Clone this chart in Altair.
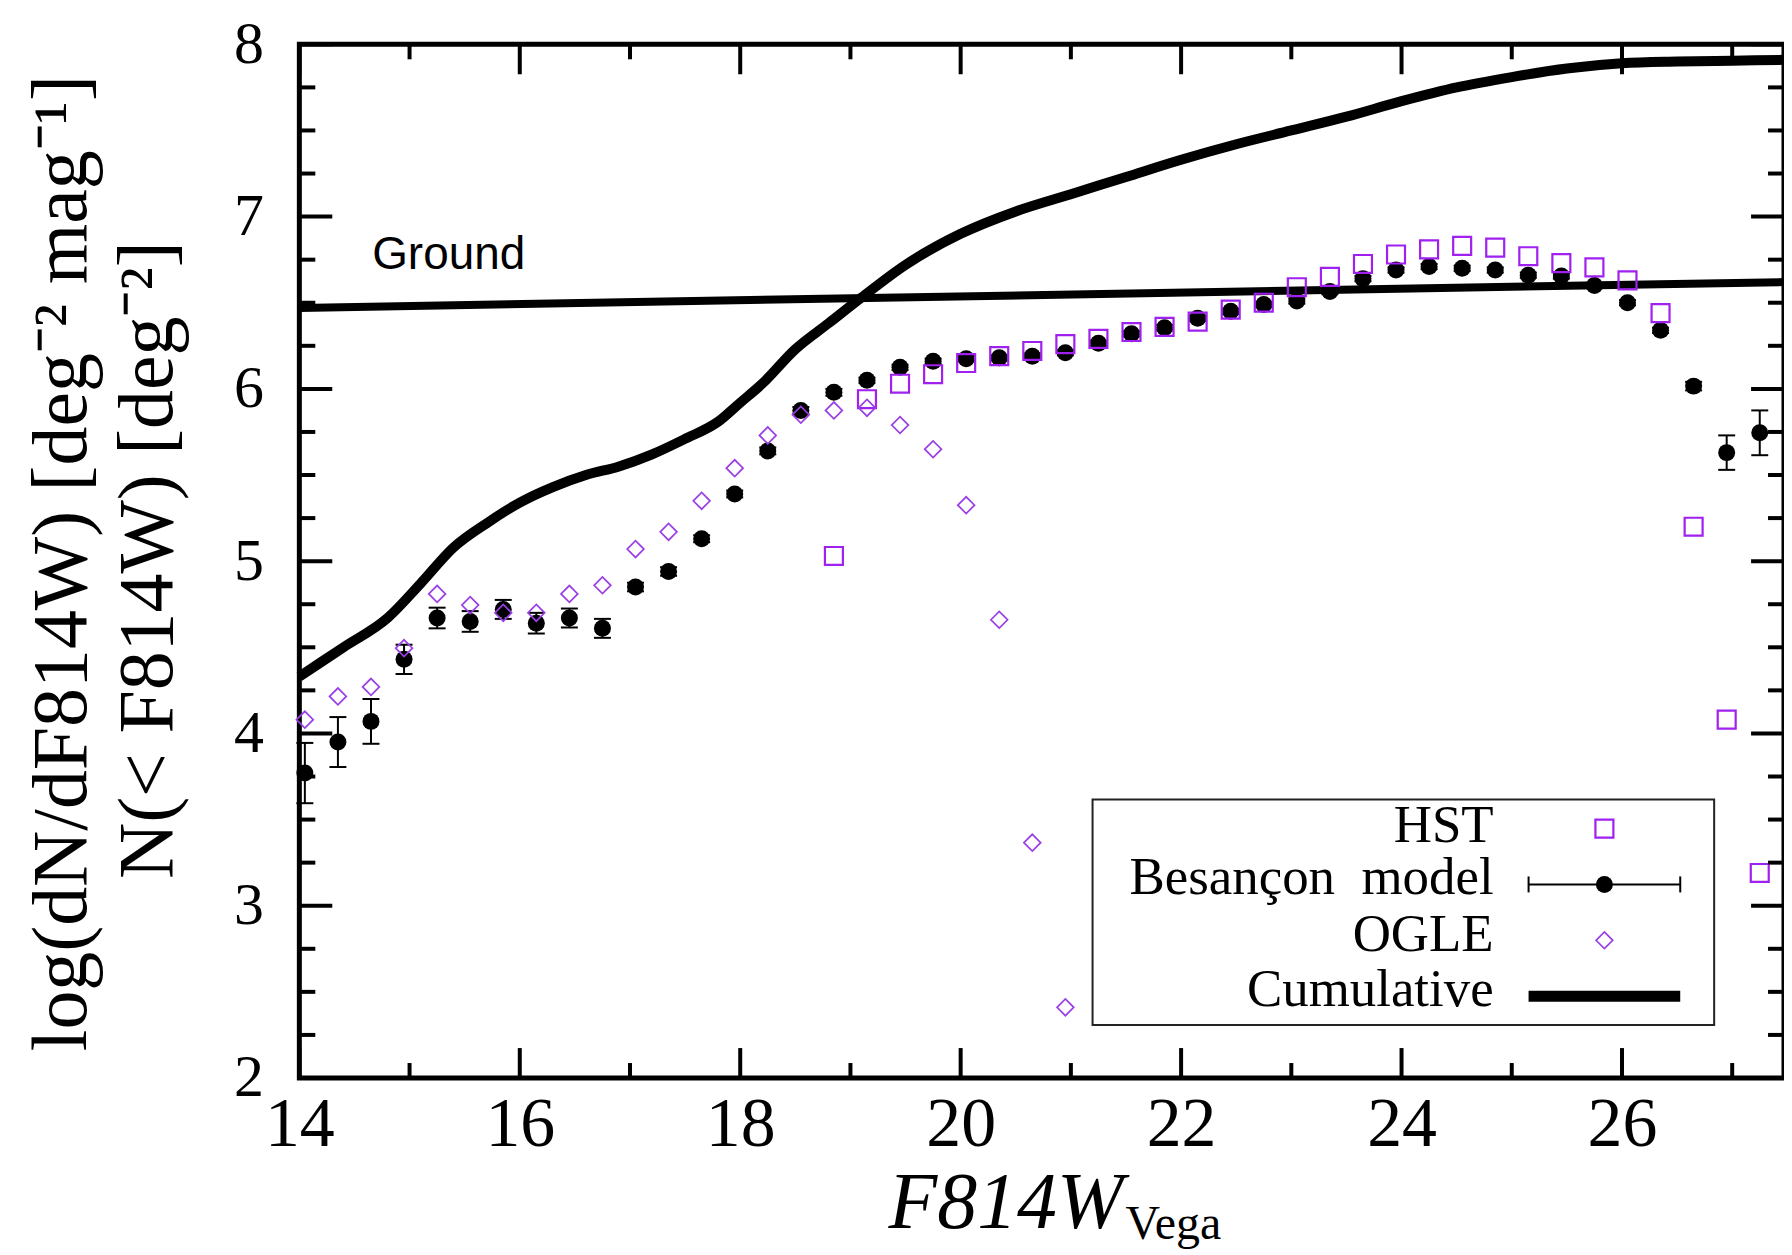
import altair as alt
import pandas as pd

# ---------------- data ----------------
model_x = [14.05, 14.35, 14.65, 14.95, 15.25, 15.55, 15.85, 16.15, 16.45, 16.75,
           17.05, 17.35, 17.65, 17.95, 18.25, 18.55, 18.85, 19.15, 19.45, 19.75,
           20.05, 20.35, 20.65, 20.95, 21.25, 21.55, 21.85, 22.15, 22.45, 22.75,
           23.05, 23.35, 23.65, 23.95, 24.25, 24.55, 24.85, 25.15, 25.45, 25.75,
           26.05, 26.35, 26.65, 26.95, 27.25]
model_y = [3.77, 3.95, 4.07, 4.43, 4.67, 4.65, 4.72, 4.64, 4.67, 4.61,
           4.85, 4.94, 5.13, 5.39, 5.64, 5.875, 5.98, 6.05, 6.125, 6.16,
           6.175, 6.18, 6.19, 6.21, 6.265, 6.32, 6.355, 6.41, 6.45, 6.49,
           6.51, 6.565, 6.64, 6.69, 6.71, 6.70, 6.69, 6.66, 6.655, 6.60,
           6.50, 6.34, 6.016, 5.63, 5.745]
model_err = [0.175, 0.145, 0.13, 0.085, 0.06, 0.06, 0.055, 0.06, 0.055, 0.055,
             0.025, 0.025, 0.02, 0.02, 0.02, 0.02, 0.02, 0.015, 0.015, 0.015,
             0.015, 0.015, 0.015, 0.015, 0.015, 0.015, 0.015, 0.015, 0.015, 0.015,
             0.015, 0.015, 0.015, 0.015, 0.015, 0.015, 0.015, 0.015, 0.015, 0.015,
             0.015, 0.015, 0.025, 0.10, 0.13]

hst_x = [18.85, 19.15, 19.45, 19.75, 20.05, 20.35, 20.65, 20.95, 21.25, 21.55,
         21.85, 22.15, 22.45, 22.75, 23.05, 23.35, 23.65, 23.95, 24.25, 24.55,
         24.85, 25.15, 25.45, 25.75, 26.05, 26.35, 26.65, 26.95, 27.25]
hst_y = [5.03, 5.94, 6.03, 6.085, 6.15, 6.19, 6.22, 6.26, 6.29, 6.33,
         6.36, 6.39, 6.46, 6.50, 6.59, 6.65, 6.725, 6.78, 6.81, 6.83,
         6.82, 6.77, 6.73, 6.705, 6.63, 6.44, 5.20, 4.08, 3.19]

ogle_x = [14.05, 14.35, 14.65, 14.95, 15.25, 15.55, 15.85, 16.15, 16.45, 16.75,
          17.05, 17.35, 17.65, 17.95, 18.25, 18.55, 18.85, 19.15, 19.45, 19.75,
          20.05, 20.35, 20.65, 20.95]
ogle_y = [4.08, 4.215, 4.27, 4.495, 4.81, 4.745, 4.70, 4.70, 4.81, 4.86,
          5.07, 5.17, 5.35, 5.54, 5.73, 5.85, 5.875, 5.89, 5.79, 5.65,
          5.325, 4.66, 3.366, 2.41]

cum_x = [14.0, 14.4, 14.8, 15.1, 15.4, 15.7, 16.0, 16.3, 16.6, 16.9, 17.2, 17.5,
         17.8, 18.0, 18.2, 18.5, 18.8, 19.1, 19.5, 20.0, 20.5, 21.0, 21.5, 22.0,
         22.5, 23.0, 23.5, 24.0, 24.5, 25.0, 25.5, 26.0, 26.5, 27.0, 27.47]
cum_y = [4.33, 4.50, 4.67, 4.87, 5.08, 5.22, 5.34, 5.43, 5.50, 5.55, 5.62, 5.71,
         5.81, 5.92, 6.03, 6.23, 6.38, 6.53, 6.72, 6.90, 7.03, 7.13, 7.23, 7.33,
         7.42, 7.50, 7.58, 7.67, 7.75, 7.81, 7.86, 7.89, 7.90, 7.905, 7.91]

ground_x = [14.0, 27.47]
ground_y = [6.47, 6.62]

x_major = [14, 16, 18, 20, 22, 24, 26]
x_minor = [15, 17, 19, 21, 23, 25, 27]
y_major = [2, 3, 4, 5, 6, 7, 8]
y_minor = [v / 4 for v in range(8, 33) if v % 4 != 0]

# ---------------- layout ----------------
W, H = 1488, 1036
XDOM = [14, 27.47]
YDOM = [2, 8]
SERIF = "Liberation Serif"
PURPLE = "#a020f0"
PURPLE2 = "#9a3ee6"

xscale = alt.Scale(domain=XDOM, nice=False, zero=False)
yscale = alt.Scale(domain=YDOM, nice=False, zero=False)
xaxis = alt.Axis(values=x_major, ticks=False, tickSize=0, domain=False, grid=False,
                 title=None, labelFont=SERIF, labelFontSize=70, labelColor="black",
                 labelPadding=13, labelFlush=False)
yaxis = alt.Axis(values=y_major, ticks=False, tickSize=0, domain=False, grid=False,
                 title=None, labelFont=SERIF, labelFontSize=60, labelColor="black",
                 labelPadding=36, labelFlush=False)


def X(f):
    return alt.X(f, type="quantitative", scale=xscale, axis=xaxis)


def Y(f):
    return alt.Y(f, type="quantitative", scale=yscale, axis=yaxis)


model_df = pd.DataFrame({"x": model_x, "y": model_y,
                         "lo": [a - b for a, b in zip(model_y, model_err)],
                         "hi": [a + b for a, b in zip(model_y, model_err)]})
hst_df = pd.DataFrame({"x": hst_x, "y": hst_y})
ogle_df = pd.DataFrame({"x": ogle_x, "y": ogle_y})
cum_df = pd.DataFrame({"x": cum_x, "y": cum_y})
ground_df = pd.DataFrame({"x": ground_x, "y": ground_y})
one = pd.DataFrame({"d": [0]})

layers = []

layers.append(alt.Chart(ground_df).mark_line(color="black", strokeWidth=8)
              .encode(x=X("x"), y=Y("y")))
layers.append(alt.Chart(cum_df).mark_line(color="black", strokeWidth=10,
                                           interpolate="monotone")
              .encode(x=X("x"), y=Y("y")))

# error bars
layers.append(alt.Chart(model_df).mark_rule(color="black", strokeWidth=2)
              .encode(x=X("x"), y=Y("lo"), y2="hi"))
for f in ["lo", "hi"]:
    layers.append(alt.Chart(model_df).mark_tick(color="black", orient="horizontal",
                                                size=17, thickness=2, opacity=1)
                  .encode(x=X("x"), y=Y(f)))
layers.append(alt.Chart(model_df).mark_point(shape="circle", filled=True, color="black",
                                             size=290, opacity=1)
              .encode(x=X("x"), y=Y("y")))
layers.append(alt.Chart(hst_df).mark_point(shape="square", filled=False, color=PURPLE,
                                           size=324, strokeWidth=2.2, opacity=1)
              .encode(x=X("x"), y=Y("y")))
layers.append(alt.Chart(ogle_df).mark_point(shape="diamond", filled=False, color=PURPLE2,
                                            size=280, strokeWidth=1.7, opacity=1)
              .encode(x=X("x"), y=Y("y")))


# inward ticks on all four sides
def xticks(vals, length):
    df = pd.DataFrame({"t": vals})
    b = alt.Chart(df).mark_rule(color="black", strokeWidth=4).encode(
        x=X("t"), y=alt.value(H), y2=alt.value(H - length))
    t = alt.Chart(df).mark_rule(color="black", strokeWidth=4).encode(
        x=X("t"), y=alt.value(0), y2=alt.value(length))
    return [b, t]


def yticks(vals, length):
    df = pd.DataFrame({"t": vals})
    l = alt.Chart(df).mark_rule(color="black", strokeWidth=4).encode(
        y=Y("t"), x=alt.value(0), x2=alt.value(length))
    r = alt.Chart(df).mark_rule(color="black", strokeWidth=4).encode(
        y=Y("t"), x=alt.value(W), x2=alt.value(W - length))
    return [l, r]


layers += xticks(x_major, 30) + xticks(x_minor, 15)
layers += yticks(y_major, 33) + yticks(y_minor, 16)


def txt(s, x, y, size, font=SERIF, align="left", baseline="alphabetic", angle=0,
        style="normal"):
    return alt.Chart(one).mark_text(text=s, font=font, fontSize=size, align=align,
                                    baseline=baseline, angle=angle, fontStyle=style,
                                    color="black").encode(
        x=alt.value(x), y=alt.value(y))


# Ground label
layers.append(txt("Ground", 73, 225, 46, font="Liberation Sans"))

# legend box
layers.append(alt.Chart(one).mark_rect(fill="white", stroke="#222", strokeWidth=2).encode(
    x=alt.value(795), x2=alt.value(1418), y=alt.value(757), y2=alt.value(983)))
layers.append(txt("HST", 1197, 799, 53, align="right"))
layers.append(txt("Besançon\u00a0\u00a0model", 1197, 852, 53, align="right"))
layers.append(txt("OGLE", 1197, 909, 53, align="right"))
layers.append(txt("Cumulative", 1197, 964, 53, align="right"))
layers.append(alt.Chart(one).mark_point(shape="square", filled=False, color=PURPLE,
                                        size=324, strokeWidth=2.2, opacity=1).encode(
    x=alt.value(1308), y=alt.value(786)))
layers.append(alt.Chart(one).mark_rule(color="black", strokeWidth=2).encode(
    x=alt.value(1232), x2=alt.value(1384), y=alt.value(842)))
for cx in [1232, 1384]:
    layers.append(alt.Chart(one).mark_rule(color="black", strokeWidth=2).encode(
        x=alt.value(cx), y=alt.value(834), y2=alt.value(850)))
layers.append(alt.Chart(one).mark_point(shape="circle", filled=True, color="black",
                                        size=290, opacity=1).encode(
    x=alt.value(1308), y=alt.value(842)))
layers.append(alt.Chart(one).mark_point(shape="diamond", filled=False, color=PURPLE2,
                                        size=280, strokeWidth=1.7, opacity=1).encode(
    x=alt.value(1308), y=alt.value(898)))
layers.append(alt.Chart(one).mark_rule(color="black", strokeWidth=11).encode(
    x=alt.value(1232), x2=alt.value(1384), y=alt.value(954)))

# axis titles
layers.append(txt("log(dN/dF814W) [deg\u207b\u00b2 mag\u207b\u00b9]", -237, 520, 78,
                  align="center", baseline="middle", angle=270))
layers.append(txt("N(< F814W) [deg\u207b\u00b2]", -151, 517, 78,
                  align="center", baseline="middle", angle=270))
layers.append(txt("F814W", 826, 1186, 80, align="right", style="italic"))
layers.append(txt("Vega", 828, 1197, 48, align="left"))

chart = alt.layer(*layers).properties(
    width=W, height=H,
    autosize=alt.AutoSizeParams(type="none"),
    padding={"left": 292, "top": 35, "right": 0, "bottom": 176},
).configure(background="white").configure_view(stroke="black", strokeWidth=5)

chart.save("out.html", embed_options={"renderer": "svg", "actions": False})
